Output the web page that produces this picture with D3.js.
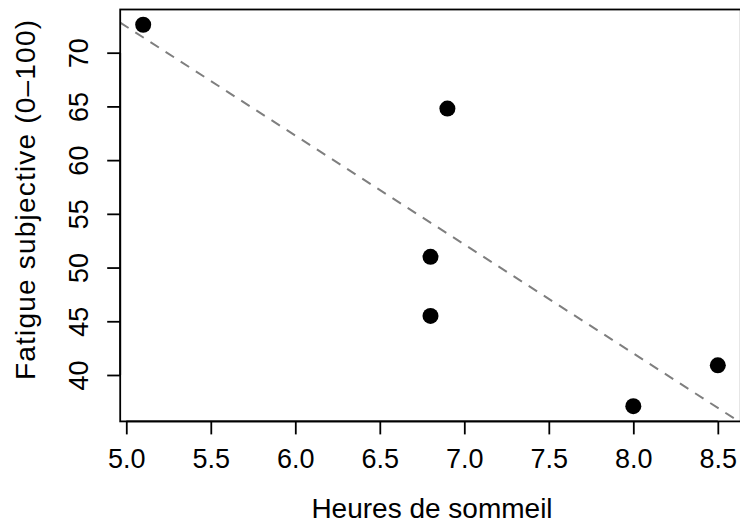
<!DOCTYPE html>
<html>
<head>
<meta charset="utf-8">
<script src="https://cdn.jsdelivr.net/npm/d3@7"></script>
<style>
  body { margin: 0; background: #fff; }
  text { font-family: "Liberation Sans", Arial, sans-serif; fill: #000; }
</style>
</head>
<body>
<div class="chart"></div>
<script>
// data
const sleepHours = [5.1, 6.9, 6.8, 6.8, 8.0, 8.5];
const fatigue = [72.6, 64.8, 51.0, 45.5, 37.1, 40.9];
const xTicks = [5.0, 5.5, 6.0, 6.5, 7.0, 7.5, 8.0, 8.5];
const yTicks = [40, 45, 50, 55, 60, 65, 70];
const xLabel = 'Heures de sommeil';
const yLabel = 'Fatigue subjective (0\u2013100)';

const width = 740, height = 524;
const plot = {left: 120.2, right: 740.8, top: 9.5, bottom: 421.4};
const tickFont = 27;
const labelFont = 28;

// R style axis range: data range stretched 4% each side
function padExtent(v) {
    const [lo, hi] = d3.extent(v);
    const p = (hi - lo) * 0.04;
    return [lo - p, hi + p];
}

const xScale = d3.scaleLinear().domain(padExtent(sleepHours)).range([plot.left, plot.right]);
const yScale = d3.scaleLinear().domain(padExtent(fatigue)).range([plot.bottom, plot.top]);

const svg = d3.select('.chart').append('svg')
    .attr('width', width).attr('height', height);

// least squares line (abline(lm(y ~ x)))
const mx = d3.mean(sleepHours), my = d3.mean(fatigue);
const sxy = d3.sum(sleepHours, (x, i) => (x - mx) * (fatigue[i] - my));
const sxx = d3.sum(sleepHours, x => (x - mx) * (x - mx));
const slope = sxy / sxx, intercept = my - slope * mx;
const xd = xScale.domain();

svg.append('defs').append('clipPath').attr('id', 'clip')
    .append('rect')
    .attr('x', plot.left).attr('y', plot.top)
    .attr('width', plot.right - plot.left).attr('height', plot.bottom - plot.top);

svg.append('line')
    .attr('clip-path', 'url(#clip)')
    .attr('x1', xScale(xd[0])).attr('y1', yScale(intercept + slope * xd[0]))
    .attr('x2', xScale(xd[1])).attr('y2', yScale(intercept + slope * xd[1]))
    .attr('stroke', '#7f7f7f').attr('stroke-width', 2)
    .attr('stroke-dasharray', '10,8');

// points
svg.selectAll('.pt')
    .data(sleepHours)
    .enter()
    .append('circle').attr('class', 'pt')
    .attr('cx', d => xScale(d))
    .attr('cy', (d, i) => yScale(fatigue[i]))
    .attr('r', 8)
    .attr('fill', '#000');

// box
svg.append('rect')
    .attr('x', plot.left).attr('y', plot.top)
    .attr('width', plot.right - plot.left).attr('height', plot.bottom - plot.top)
    .attr('fill', 'none').attr('stroke', '#000').attr('stroke-width', 1.8);

// axes
const xAxis = d3.axisBottom(xScale).tickValues(xTicks)
    .tickFormat(d3.format('.1f')).tickSizeInner(13).tickSizeOuter(0).tickPadding(14);
const xAxisDraw = svg.append('g').attr('class', 'x axis')
    .attr('transform', `translate(0,${plot.bottom})`).call(xAxis);
xAxisDraw.select('.domain')
    .attr('d', `M${xScale(xTicks[0])},0H${xScale(xTicks[xTicks.length - 1])}`);

const yAxis = d3.axisLeft(yScale).tickValues(yTicks)
    .tickSizeInner(13).tickSizeOuter(0).tickPadding(14);
const yAxisDraw = svg.append('g').attr('class', 'y axis')
    .attr('transform', `translate(${plot.left},0)`).call(yAxis);
yAxisDraw.select('.domain')
    .attr('d', `M0,${yScale(yTicks[0])}V${yScale(yTicks[yTicks.length - 1])}`);

svg.selectAll('.axis path, .axis line').attr('stroke', '#000').attr('stroke-width', 1.8);
svg.selectAll('.axis text')
    .style('font-family', '"Liberation Sans", Arial, sans-serif')
    .style('font-size', tickFont + 'px').attr('fill', '#000');

// y tick labels are turned like R's las=0
yAxisDraw.selectAll('.tick text')
    .attr('x', null).attr('dy', null)
    .attr('text-anchor', 'middle')
    .attr('transform', 'translate(-32,0) rotate(-90)');

// axis titles
svg.append('text')
    .attr('x', 432).attr('y', 518)
    .attr('text-anchor', 'middle')
    .style('font-size', labelFont + 'px')
    .text(xLabel);

svg.append('text')
    .attr('transform', 'translate(35,380) rotate(-90)')
    .attr('text-anchor', 'start')
    .attr('textLength', 360).attr('lengthAdjust', 'spacing')
    .style('font-size', labelFont + 'px')
    .text(yLabel);
</script>
</body>
</html>
